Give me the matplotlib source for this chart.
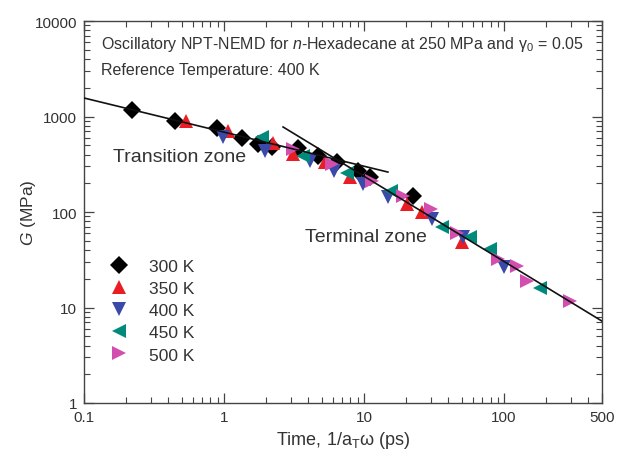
import matplotlib
matplotlib.use('Agg')
import matplotlib.pyplot as plt
import numpy as np

plt.rcParams['font.family'] = ['Liberation Sans', 'DejaVu Sans']
plt.rcParams['mathtext.fontset'] = 'custom'
plt.rcParams['mathtext.rm'] = 'Liberation Sans'
plt.rcParams['mathtext.it'] = 'Liberation Sans:italic'

# shifted time 1/(aT*w) in ps, and modulus G in MPa, per temperature
t_300 = [0.22, 0.447, 0.89, 1.34, 1.75, 2.2, 3.38, 4.69, 6.4, 9.06, 11.0, 22.4]
g_300 = [1170, 897, 760, 596, 515, 480, 468, 386, 334, 268, 232, 147]

t_350 = [0.535, 1.07, 2.22, 3.12, 5.3, 7.94, 20.2, 26.0, 50.0]
g_350 = [897, 705, 527, 406, 334, 232, 121, 100, 48.6]

t_400 = [0.98, 1.97, 4.1, 6.1, 9.9, 14.9, 30.5, 50.7, 100]
g_400 = [610, 435, 343, 268, 196, 144, 84, 55, 26.5]

t_450 = [1.87, 3.66, 7.5, 15.5, 36, 57, 79, 180]
g_450 = [610, 386, 255, 166, 70, 55, 41, 16]

t_500 = [3.1, 5.9, 11.4, 19, 30, 46, 90, 124, 146, 296]
g_500 = [458, 317, 210, 147, 107, 60, 32, 27, 19, 11.7]

# tangent lines (transition and terminal zones)
shallow_t = [0.1, 14.8]
shallow_g = [1563, 262]
steep_t = [2.64, 500]
steep_g = [777, 7.2]

fig = plt.figure(figsize=(6.17, 4.52), dpi=100)
ax = fig.add_axes([0.1361, 0.1062, 0.8396, 0.8451])

ax.plot(t_300, g_300, 'D', color='black', ms=9, mew=0, label='300 K', zorder=3)
ax.plot(t_350, g_350, '^', color='#ea1c24', ms=10.5, mew=0, label='350 K', zorder=3)
ax.plot(t_400, g_400, 'v', color='#3a4aa8', ms=10.5, mew=0, label='400 K', zorder=3)
ax.plot(t_450, g_450, '<', color='#008a7c', ms=10.5, mew=0, label='450 K', zorder=3)
ax.plot(t_500, g_500, '>', color='#d24fb0', ms=10.5, mew=0, label='500 K', zorder=3)

ax.plot(shallow_t, shallow_g, color='#111111', lw=1.2, zorder=4)
ax.plot(steep_t, steep_g, color='#111111', lw=1.2, zorder=4)

ax.set_xscale('log')
ax.set_yscale('log')
ax.set_xlim(0.1, 500)
ax.set_ylim(1, 10000)
ax.set_xticks([0.1, 1, 10, 100, 500])
ax.set_xticklabels(['0.1', '1', '10', '100', '500'])
ax.set_yticks([1, 10, 100, 1000, 10000])
ax.set_yticklabels(['1', '10', '100', '1000', '10000'])

ax.tick_params(which='both', direction='in', top=True, right=True, colors='#444444',
               labelcolor='#333333', labelsize=11)
ax.tick_params(which='major', length=7, width=0.9, pad=5)
ax.tick_params(which='minor', length=4, width=0.8)
for sp in ax.spines.values():
    sp.set_color('#444444')
    sp.set_linewidth(1.0)

ax.set_xlabel(r'Time, 1/a$_\mathrm{T}$$\mathrm{ω}$ (ps)', fontsize=13, color='#333333', labelpad=4)
ax.set_ylabel(r'$G$ (MPa)', fontsize=12.5, color='#333333')
ax.yaxis.set_label_coords(-0.088, 0.5)

ax.text(0.033, 0.94, r'Oscillatory NPT-NEMD for $n$-Hexadecane at 250 MPa and $\mathrm{γ}_{0}$ = 0.05',
        transform=ax.transAxes, fontsize=11.5, color='#333333', va='center')
ax.text(0.033, 0.874, 'Reference Temperature: 400 K',
        transform=ax.transAxes, fontsize=11.5, color='#333333', va='center')
ax.text(0.056, 0.644, 'Transition zone', transform=ax.transAxes, fontsize=14,
        color='#333333', va='center')
ax.text(0.427, 0.435, 'Terminal zone', transform=ax.transAxes, fontsize=14,
        color='#333333', va='center')

leg = ax.legend(loc='upper left', bbox_to_anchor=(0.05, 0.377), frameon=False,
                fontsize=12.5, handlelength=1.0, handletextpad=1.25, labelspacing=0.4,
                borderpad=0, borderaxespad=0)
for txt in leg.get_texts():
    txt.set_color('#333333')

plt.savefig('out.png', dpi=100)
